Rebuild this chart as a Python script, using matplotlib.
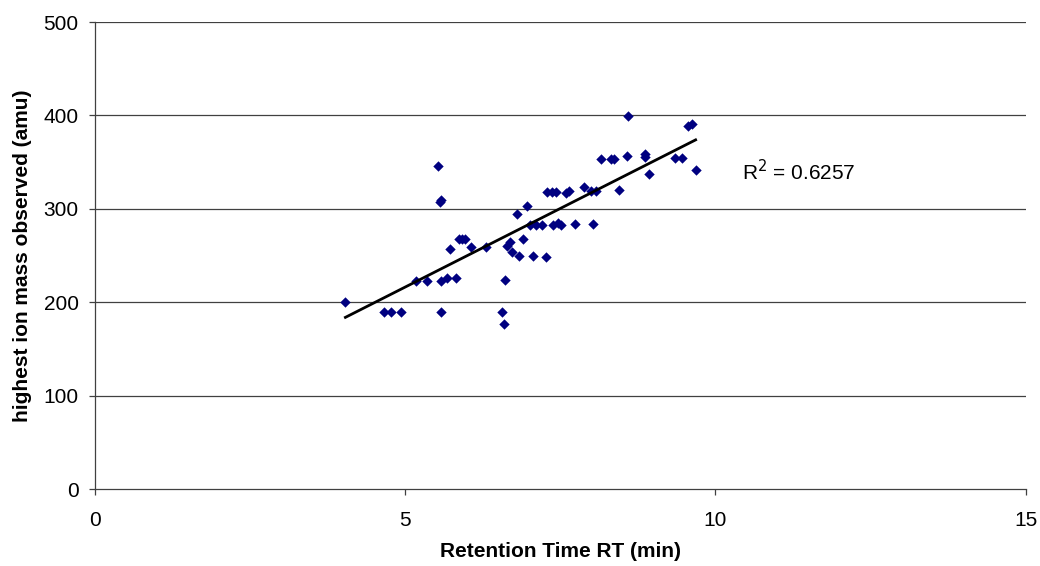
import numpy as np
import matplotlib.pyplot as plt

plt.rcParams['font.family'] = ['Liberation Sans', 'DejaVu Sans']

# retention time (min) and highest ion mass observed (amu)
rt = [4.04, 4.66, 4.77, 4.93, 5.17, 5.36, 5.58, 5.67, 5.82, 5.58,
      5.53, 5.56, 5.58, 5.73, 5.87, 5.92, 5.97, 6.07, 6.31, 6.61,
      6.57, 6.59, 6.64, 6.69, 6.72, 6.84, 6.90, 6.81, 6.97, 7.02,
      7.11, 7.20, 7.06, 7.27, 7.29, 7.36, 7.43, 7.38, 7.46, 7.52,
      7.60, 7.64, 7.74, 7.88, 7.99, 8.07, 8.03, 8.15, 8.32, 8.37,
      8.45, 8.57, 8.59, 8.87, 8.87, 8.93, 9.34, 9.46, 9.56, 9.62,
      9.68]
mass = [200, 190, 190, 190, 223, 223, 223, 226, 226, 189,
        346, 307, 309, 257, 268, 268, 268, 259, 259, 224,
        190, 177, 260, 264, 254, 250, 268, 294, 303, 283,
        283, 283, 250, 248, 318, 318, 318, 283, 285, 283,
        317, 319, 284, 323, 319, 319, 284, 353, 353, 353,
        320, 357, 399, 359, 356, 337, 354, 354, 389, 391,
        342]

x = np.array(rt)
y = np.array(mass)
slope, intercept = np.polyfit(x, y, 1)

fig = plt.figure(figsize=(10.4, 5.66), dpi=100)
ax = fig.add_axes([0.0909, 0.136, 0.8956, 0.8251])

for v in [100, 200, 300, 400, 500]:
    ax.axhline(v, color='#404040', lw=0.9, zorder=0)

ax.scatter(x, y, marker='D', s=28, color='#000080', zorder=3, linewidths=0)
xl = np.array([x.min(), x.max()])
ax.plot(xl, slope * xl + intercept, color='black', lw=2, zorder=4)

ax.text(10.42, 340, 'R$^2$ = 0.6257', fontsize=15, va='center')

ax.set_xlim(0, 15)
ax.set_ylim(0, 500)
ax.set_xticks([0, 5, 10, 15])
ax.set_yticks([0, 100, 200, 300, 400, 500])
ax.tick_params(labelsize=15, length=4.5, width=0.9, color='#404040')
ax.tick_params(axis='x', pad=11)
ax.tick_params(axis='y', pad=7)
for s in ['top', 'right']:
    ax.spines[s].set_visible(False)
for s in ['left', 'bottom']:
    ax.spines[s].set_color('#404040')
    ax.spines[s].set_linewidth(0.9)

ax.set_xlabel('Retention Time RT (min)', fontsize=15, fontweight='bold', va='center')
ax.set_ylabel('highest ion mass observed (amu)', fontsize=15, fontweight='bold', va='center')
ax.xaxis.set_label_coords(0.5, -0.1328)
ax.yaxis.set_label_coords(-0.0778, 0.5)

fig.savefig('out.png', dpi=100)
